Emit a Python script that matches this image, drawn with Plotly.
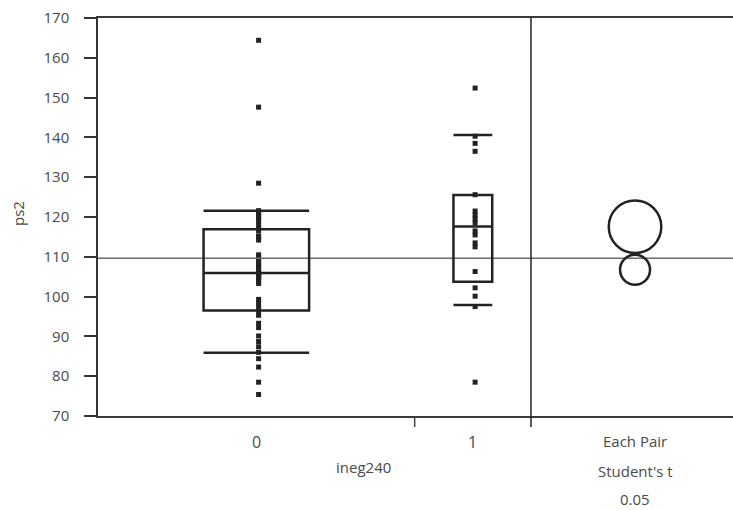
import plotly.graph_objects as go

# ---------------- data ----------------
groups = ["0", "1"]
ps2_g0 = [75.4, 78.5, 82.3, 84.4, 86.0, 87.4, 88.7, 90.1, 92.2, 93.3,
          95.3, 96.3, 97.3, 98.3, 99.3, 103.3, 103.8, 104.3, 104.8, 105.0,
          105.3, 105.5, 105.8, 105.9, 106.0, 106.5, 107.0, 107.5, 108.0, 108.5,
          109.0, 109.5, 110.0, 110.5, 114.2, 115.0, 115.2, 116.5, 117.2, 118.0,
          119.0, 119.8, 120.0, 121.0, 121.1, 121.6, 128.5, 147.6, 164.4]
ps2_g1 = [78.5, 97.5, 100.1, 102.2, 106.3, 112.5, 113.5, 115.5, 116.5, 118.5,
          119.5, 120.5, 121.5, 125.6, 136.5, 138.5, 140.3, 152.4]
q10 = [85.9, 97.9]
q25 = [96.5, 103.7]
q50 = [105.9, 117.6]
q75 = [116.9, 125.5]
q90 = [121.6, 140.6]
circle_radius = [3.77, 6.6]
y_ticks = list(range(70, 171, 10))
x_title = "ineg240"
y_title = "ps2"
comparison_labels = ["Each Pair", "Student's t", "0.05"]

# ---------------- geometry ----------------
W, H = 733, 510
ml, mr, mt, mb = 98, 0, 18, 94
pw, ph = W - ml - mr, H - mt - mb
ymin, ymax = 70, 170
series = [ps2_g0, ps2_g1]
counts = [len(s) for s in series]
n_tot = sum(counts)
circle_frac = 202 / 635
xmax = n_tot / (1 - circle_frac)
circle_w = xmax - n_tot
px_x = pw / xmax
px_y = ph / (ymax - ymin)

starts = [0, counts[0]]
centers = [starts[i] + counts[i] / 2 for i in range(2)]
means = [sum(s) / len(s) for s in series]
grand_mean = sum(sum(s) for s in series) / n_tot

INK = "#222222"
GREY = "#4a4a4a"
FONT = "Open Sans"
LBL = 16

fig = go.Figure()
for i, s in enumerate(series):
    fig.add_trace(go.Scatter(
        x=[centers[i] + 0.35] * len(s), y=s, mode="markers",
        marker=dict(symbol="square", size=5, color=INK, line=dict(width=0)),
        showlegend=False, hoverinfo="y"))

shapes = []
shapes.append(dict(type="line", xref="x", yref="y", x0=0, x1=xmax,
                   y0=grand_mean, y1=grand_mean,
                   line=dict(color="#6b6b6b", width=1.5)))
for i in range(2):
    half = counts[i] / 6
    c = centers[i]
    shapes.append(dict(type="rect", xref="x", yref="y", x0=c - half, x1=c + half,
                       y0=q25[i], y1=q75[i], line=dict(color=INK, width=2.5)))
    for v in (q10[i], q50[i], q90[i]):
        shapes.append(dict(type="line", xref="x", yref="y", x0=c - half, x1=c + half,
                           y0=v, y1=v, line=dict(color=INK, width=2.5)))
shapes.append(dict(type="line", xref="x", yref="paper", x0=n_tot, x1=n_tot,
                   y0=-11 / ph, y1=1, line=dict(color=INK, width=1.5)))
shapes.append(dict(type="line", xref="x", yref="paper", x0=counts[0], x1=counts[0],
                   y0=-11 / ph, y1=0, line=dict(color="#444444", width=1.5)))
cx = n_tot + circle_w * 0.515
for i in range(2):
    r = circle_radius[i]
    rx = r * px_y / px_x
    shapes.append(dict(type="circle", xref="x", yref="y",
                       x0=cx - rx, x1=cx + rx, y0=means[i] - r, y1=means[i] + r,
                       line=dict(color=INK, width=2.5)))

annotations = []
def py2paper(py):
    return (H - mb - py) / ph

for i, g in enumerate(groups):
    annotations.append(dict(x=centers[i], xref="x", y=py2paper(442), yref="paper",
                            text=g, showarrow=False, yanchor="middle",
                            font=dict(family=FONT, size=LBL, color=GREY)))
for k, (t, yy) in enumerate(zip(comparison_labels, [441, 471, 499])):
    annotations.append(dict(x=cx, xref="x", y=py2paper(yy), yref="paper",
                            text=t, showarrow=False, yanchor="middle", borderpad=0,
                            font=dict(family=FONT, size=LBL - 1, color=GREY)))
annotations.append(dict(x=(363 - ml) / pw, xref="paper", y=py2paper(467), yref="paper",
                        text=x_title, showarrow=False, yanchor="middle",
                        font=dict(family=FONT, size=LBL - 1, color=GREY)))
annotations.append(dict(x=(18 - ml) / pw, xref="paper", y=py2paper(214), yref="paper",
                        text=y_title, showarrow=False, textangle=-90,
                        xanchor="center", yanchor="middle",
                        font=dict(family=FONT, size=LBL - 1, color=GREY)))

fig.update_layout(
    width=W, height=H, margin=dict(l=ml, r=mr, t=mt, b=mb, pad=0),
    paper_bgcolor="white", plot_bgcolor="white",
    shapes=shapes, annotations=annotations, showlegend=False,
    xaxis=dict(range=[0, xmax], showgrid=False, zeroline=False, showticklabels=False,
               ticks="", showline=True, mirror=True, linecolor="#3a3a3a", linewidth=1.5,
               fixedrange=True),
    yaxis=dict(range=[ymin, ymax], tickvals=y_ticks, showgrid=False, zeroline=False,
               ticks="outside", ticklen=12, tickwidth=1.5, tickcolor="#333333",
               showline=True, linecolor="#333333", linewidth=1.5,
               tickfont=dict(family=FONT, size=15, color=GREY),
               ticklabelstandoff=12, fixedrange=True),
)

fig.write_html("out.html", config={"displayModeBar": False})
